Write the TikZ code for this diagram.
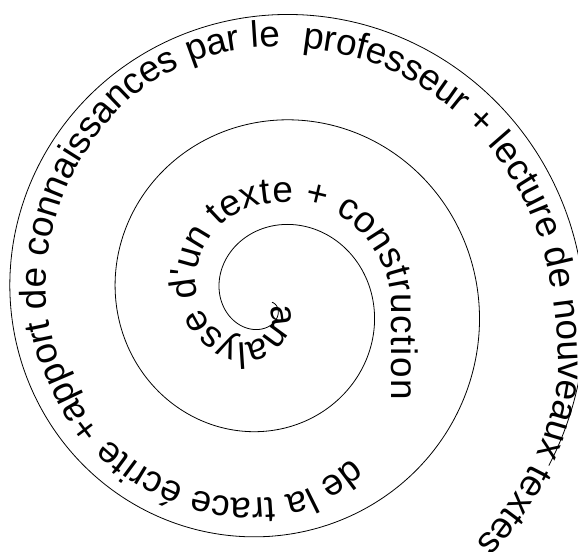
\documentclass[tikz,border=0pt]{standalone}
\usepackage{fontspec}
\newfontfamily\spiralfont{Liberation Sans}[Ligatures=TeXOff]
\usepackage{tikz}
\usetikzlibrary{decorations.text}

\begin{document}
\begin{tikzpicture}[x=1bp, y=1bp,
    execute at begin picture={\spiralfont\fontsize{37}{44}\selectfont},
    spiral/.style={draw=black, line width=0.8bp},
    spiraltext/.style={decorate, decoration={text along path, text align=fit to path, raise=-9.6bp,
      text={|\spiralfont\fontsize{37}{44}\selectfont|#1}}}]
  \useasboundingbox (0,0) rectangle (578,-552);
  \begin{scope}[shift={(271,-302)}]
    \path[spiral] plot[domain=15:1110.5, samples=366, smooth, variable=\t] ({-\t}:{0.29339*\t-3.4});
    \path[spiraltext={analyse d'un texte + construction}] plot coordinates {(-25:9) (-30:10)
      (-35:11) (-40:12.6) (-45:14) (-50:15.4) (-55:17.8) (-60:20.9) (-65:24.1) (-70:27) (-75:30.2)
      (-80:33.5) (-85:36.7) (-90:40) (-95:43) (-100:46) (-105:49) (-110:52) (-115:55) (-120:58)
      (-125:60) (-130:62) (-135:64) (-140:66) (-145:68) (-150:70) (-155:72) (-160:74) (-165:76)
      (-170:78) (-175:80) (-180:82) (-185:84) (-190:86) (-195:88) (-200:89.7) (-205:91.3)
      (-210:93) (-215:94.7) (-220:96.3) (-225:98) (-230:99.7) (-235:101.3) (-240:103) (-245:104)
      (-250:105) (-255:106) (-260:106.7) (-265:107.3) (-270:108) (-275:109.3) (-280:110.7)
      (-285:112) (-290:113.7) (-295:115.3) (-300:117) (-305:118.3) (-310:119.7) (-315:121)
      (-320:122.3) (-325:123.7) (-330:125) (-335:126) (-340:127) (-345:128) (-350:128.7)
      (-355:129.3) (-360:130) (-365:130.5) (-370:132) (-375:134.6) (-380:138.3) (-385:143.4)
      (-390:150.1) (-395:158.7) (-397:163)};
    \path[spiraltext={de la trace écrite +apport de connaissances par le}] plot coordinates {
      (-422:185.5) (-425:188) (-430:192.3) (-435:196.7) (-440:201) (-445:203) (-450:205)
      (-455:207) (-460:209) (-465:210.5) (-470:212) (-475:213) (-480:214) (-485:216) (-490:218)
      (-495:220) (-500:222) (-505:223.5) (-510:225) (-515:226) (-520:227) (-525:229) (-530:231)
      (-535:232.5) (-540:234) (-545:235.5) (-550:237) (-555:238.5) (-560:240) (-565:242)
      (-570:244) (-575:246) (-580:248) (-585:251) (-590:254) (-595:256.5) (-600:259) (-605:260.5)
      (-610:262) (-615:263) (-620:264) (-625:264.5) (-630:265) (-632:265.2)};
    \path[spiraltext={professeur + lecture de nouveaux textes}] plot coordinates {(-637:265.8)
      (-640:266) (-645:267.5) (-650:269) (-655:270) (-660:271) (-665:272) (-670:273) (-675:274.5)
      (-680:276) (-685:277.5) (-690:279) (-695:281) (-700:283) (-705:285) (-710:287) (-715:289.5)
      (-720:292) (-725:296.4) (-730:301.3) (-735:307) (-740:310.6) (-745:313.5) (-750:316)
      (-755:318.5) (-760:321) (-765:323.8) (-769.5:326)};
  \end{scope}
\end{tikzpicture}
\end{document}
